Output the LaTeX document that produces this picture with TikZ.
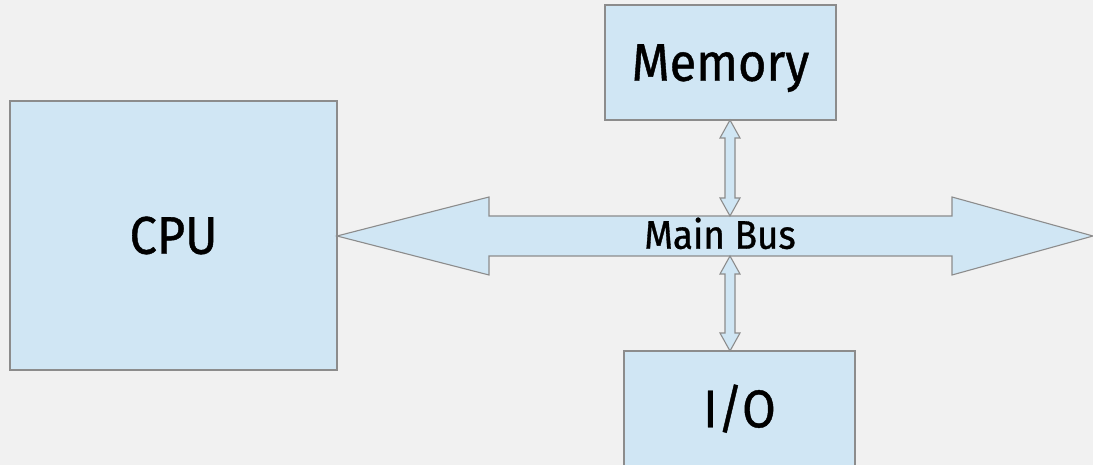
\documentclass[tikz,border=0pt]{standalone}
\usepackage{fontspec}
\setmainfont{Fira Sans}[FakeStretch=0.92,FakeBold=0.8]
\definecolor{bg}{HTML}{F1F1F1}
\definecolor{boxfill}{HTML}{D0E6F4}
\definecolor{edge}{HTML}{8C8C8C}
\begin{document}
\begin{tikzpicture}[x=1pt,y=-1pt,
  block/.style={draw=edge,fill=boxfill,line width=1.1pt,inner sep=0pt,
    text height=36.5pt,text depth=0pt,font=\fontsize{53}{60}\selectfont},
  busshape/.style={draw=edge,fill=boxfill,line width=1.1pt,line join=miter},
  buslabel/.style={inner sep=0pt,text height=27.5pt,text depth=0pt,
    font=\fontsize{40}{46}\selectfont}]
  % canvas
  \fill[bg] (0,0) rectangle (1093,465);
  \useasboundingbox (0,0) rectangle (1093,465);

  % units
  \node[block,minimum width=327,minimum height=269] (cpu) at (173.5,235.5) {CPU};
  \node[block,minimum width=231,minimum height=115] (mem) at (720.5,62.5) {Memory};
  \node[block,minimum width=231,minimum height=116] (io)  at (739.5,409) {I/O};

  % main bus (double block arrow)
  \coordinate (busL) at (337,236);
  \coordinate (busR) at (1093,236);
  \draw[busshape] (busL) -- (489,197) -- (489,216) -- (952,216) -- (952,197)
    -- (busR) -- (952,275) -- (952,256) -- (489,256) -- (489,275) -- cycle;
  \node[buslabel] (bus) at (720,235) {Main Bus};

  % memory <-> bus
  \coordinate (mTop) at (730,120);
  \coordinate (mBot) at (730,216);
  \draw[busshape] (mTop) -- (740,138) -- (735,138) -- (735,198) -- (740,198)
    -- (mBot) -- (720,198) -- (725,198) -- (725,138) -- (720,138) -- cycle;

  % bus <-> I/O
  \coordinate (iTop) at (730,256);
  \coordinate (iBot) at (730,351);
  \draw[busshape] (iTop) -- (740,274) -- (735,274) -- (735,333) -- (740,333)
    -- (iBot) -- (720,333) -- (725,333) -- (725,274) -- (720,274) -- cycle;
\end{tikzpicture}
\end{document}
